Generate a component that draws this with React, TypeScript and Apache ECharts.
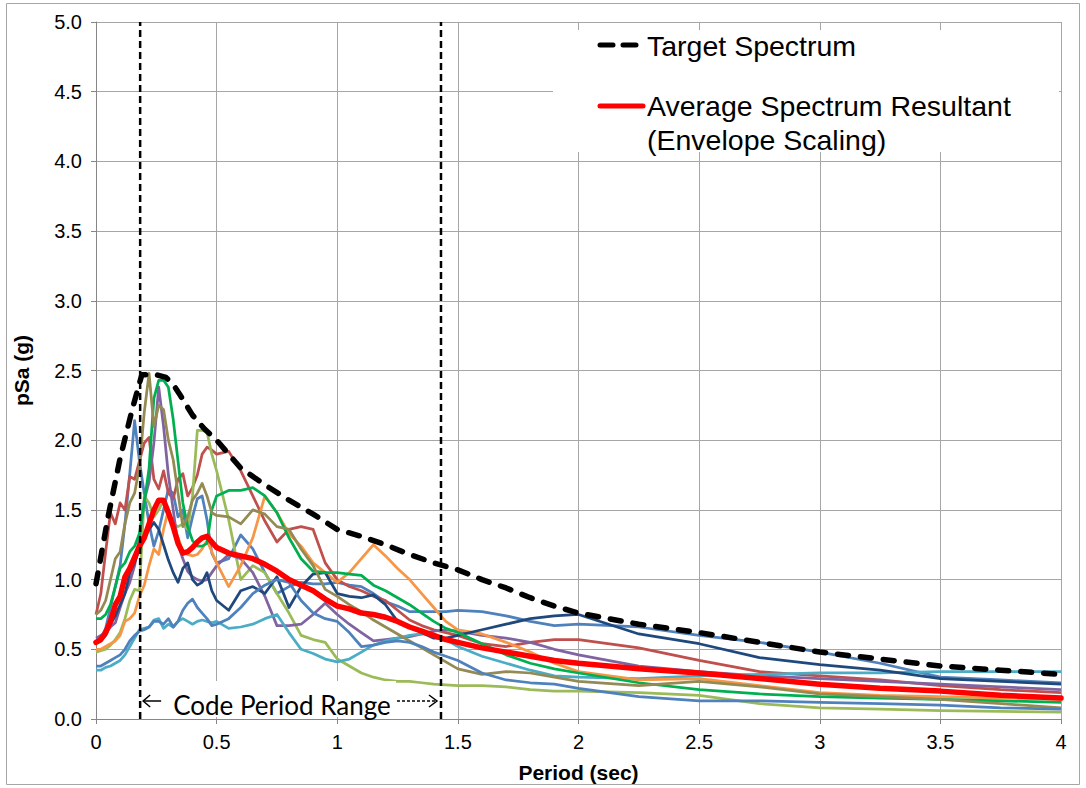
import React, { useEffect, useRef } from "react";
import * as echarts from "echarts";

// Periods (sec) shared by the record spectra and the average
const periods = [
  0, 0.02, 0.04, 0.06, 0.08, 0.1, 0.12, 0.14, 0.16, 0.18,
  0.2, 0.22, 0.24, 0.26, 0.28, 0.3, 0.32, 0.34, 0.36, 0.38,
  0.4, 0.42, 0.44, 0.46, 0.48, 0.5,
  0.55, 0.6, 0.65, 0.7, 0.75, 0.8, 0.85, 0.9, 0.95, 1.0,
  1.05, 1.1, 1.15, 1.2, 1.25, 1.3, 1.35, 1.4, 1.45, 1.5,
  1.6, 1.7, 1.8, 1.9, 2.0,
  2.25, 2.5, 2.75, 3.0, 3.25, 3.5, 3.75, 4.0,
];

const averageSa = [
  0.55, 0.57, 0.62, 0.7, 0.82, 0.88, 1.02, 1.08, 1.16, 1.24,
  1.3, 1.4, 1.5, 1.57, 1.57, 1.48, 1.38, 1.26, 1.19, 1.2,
  1.23, 1.27, 1.3, 1.31, 1.27, 1.23,
  1.19, 1.17, 1.15, 1.11, 1.06, 1.0, 0.96, 0.92, 0.86, 0.81,
  0.79, 0.76, 0.75, 0.73, 0.7, 0.66, 0.63, 0.6, 0.57, 0.55,
  0.51, 0.48, 0.45, 0.42, 0.4,
  0.36, 0.33, 0.29, 0.25, 0.22, 0.2, 0.17, 0.15,
];

const navySa = [
  0.55, 0.56, 0.6, 0.68, 0.74, 0.82, 0.9, 1.05, 1.12, 1.22,
  1.3, 1.36, 1.41, 1.36, 1.25, 1.14, 1.05, 0.98, 1.08, 1.12,
  1.0, 0.96, 0.98, 1.05, 0.92, 0.85,
  0.78, 0.92, 0.95, 0.9, 1.02, 0.8, 0.95, 1.04, 1.05, 0.9,
  0.88, 0.87, 0.89, 0.82, 0.7, 0.66, 0.62, 0.58, 0.58, 0.6,
  0.64, 0.68, 0.72, 0.74, 0.75,
  0.61, 0.54, 0.44, 0.39, 0.35, 0.29, 0.27, 0.25,
];

const redSa = [
  0.75, 0.9, 1.2, 1.48, 1.4, 1.55, 1.5, 1.74, 1.72, 1.85,
  1.98, 2.02, 1.72, 1.65, 1.78, 1.62, 1.58, 1.72, 1.76, 1.6,
  1.66, 1.75, 1.9, 1.95, 1.93, 1.9,
  1.92, 1.78, 1.6, 1.42, 1.27, 1.36, 1.38, 1.36, 1.12, 1.0,
  0.95, 0.92, 0.88, 0.85, 0.78, 0.71, 0.67, 0.64, 0.62, 0.6,
  0.54, 0.52, 0.55, 0.57, 0.57,
  0.51, 0.42, 0.34, 0.31, 0.28, 0.24, 0.21, 0.19,
];

const lightGreenSa = [
  0.48, 0.49, 0.5, 0.53, 0.57, 0.62, 0.72, 0.85, 0.93, 0.92,
  1.6, 1.55, 1.45, 1.5, 1.57, 1.45, 1.4, 1.38, 1.4, 1.36,
  1.6, 2.07, 2.07, 2.06, 1.9, 1.78,
  1.43, 1.0, 1.1, 1.05, 0.9, 0.76, 0.6, 0.57, 0.55, 0.43,
  0.38, 0.33, 0.3, 0.28, 0.27, 0.27, 0.26, 0.25, 0.245, 0.24,
  0.24, 0.23, 0.21, 0.2, 0.2,
  0.19, 0.17, 0.11, 0.08, 0.07, 0.06, 0.055, 0.05,
];

const oliveSa = [
  0.75, 0.78, 0.85, 1.0, 1.15, 1.2, 1.4, 1.55, 1.62, 1.81,
  2.2, 2.48, 2.1, 2.25, 2.22, 2.0, 1.86, 1.62, 1.38, 1.45,
  1.57, 1.62, 1.69, 1.6, 1.48, 1.46,
  1.45, 1.4, 1.5, 1.47, 1.38, 1.36, 1.22, 1.1, 0.93, 0.88,
  0.82, 0.77, 0.71, 0.66, 0.61, 0.56, 0.51, 0.46, 0.41, 0.36,
  0.32, 0.34, 0.33, 0.3, 0.27,
  0.24, 0.27, 0.23, 0.18, 0.16, 0.14, 0.11, 0.08,
];

const greenSa = [
  0.72, 0.72, 0.75, 0.82, 0.95, 1.08, 1.12, 1.2, 1.24, 1.33,
  1.55, 1.8, 2.3, 2.43, 2.43, 2.38, 2.15, 1.85, 1.55, 1.38,
  1.28, 1.24, 1.24, 1.26, 1.5, 1.6,
  1.64, 1.64, 1.66, 1.6, 1.48, 1.3, 1.15, 1.06, 1.05, 1.05,
  1.04, 1.03, 0.96, 0.92, 0.87, 0.82, 0.76, 0.7, 0.65, 0.62,
  0.54, 0.46, 0.4, 0.36, 0.33,
  0.26, 0.21, 0.18, 0.16, 0.15, 0.14, 0.13, 0.12,
];

const orangeSa = [
  0.5, 0.5, 0.52, 0.54, 0.56, 0.6, 0.7, 0.72, 0.76, 0.88,
  0.96, 1.1, 1.22, 1.18, 1.36, 1.5, 1.4, 1.3, 1.2, 1.18,
  1.17, 1.18, 1.22, 1.28, 1.2, 1.12,
  0.95, 1.1, 1.3, 1.6, 1.48, 1.33, 1.24, 1.12, 1.05, 0.98,
  1.05, 1.15, 1.25, 1.17, 1.08, 1.0, 0.9, 0.8, 0.7, 0.64,
  0.61, 0.55, 0.48, 0.4, 0.34,
  0.28, 0.29, 0.24, 0.19, 0.17, 0.16, 0.15, 0.14,
];

const purpleSa = [
  0.58, 0.6, 0.62, 0.66, 0.69, 0.8, 0.9, 0.98, 1.1, 1.3,
  1.57, 1.7, 1.98, 2.38, 2.1, 1.75, 1.5, 1.25, 1.15, 1.06,
  1.02, 1.0, 0.99, 1.0, 1.05, 1.1,
  1.18, 1.15, 1.05, 0.88, 0.67, 0.67, 0.68, 0.75, 0.83, 0.75,
  0.68, 0.62, 0.56, 0.57, 0.58, 0.59, 0.61, 0.63, 0.64, 0.63,
  0.6, 0.58, 0.55, 0.5, 0.46,
  0.38, 0.34, 0.31, 0.29, 0.27, 0.25, 0.23, 0.21,
];

const blueSa = [
  0.55, 0.58, 0.65, 0.8, 0.95, 1.1, 1.4, 1.76, 2.14, 1.85,
  1.62, 1.4, 1.24, 1.35, 1.5, 1.65, 1.62, 1.45, 1.5, 1.3,
  1.45, 1.58, 1.6, 1.43, 1.19, 1.12,
  1.15, 1.32, 1.22, 1.05, 0.9, 0.95, 0.98, 0.97, 0.97, 0.98,
  0.96, 0.95, 0.9, 0.84, 0.81, 0.77, 0.77, 0.77, 0.77, 0.78,
  0.77, 0.74, 0.7, 0.67, 0.68,
  0.66, 0.6, 0.55, 0.48, 0.4, 0.3, 0.28, 0.26,
];

const lowBlueSa = [
  0.38, 0.38, 0.4, 0.42, 0.44, 0.46, 0.5, 0.56, 0.6, 0.63,
  0.64, 0.66, 0.7, 0.7, 0.68, 0.72, 0.66, 0.7, 0.78, 0.83,
  0.86, 0.8, 0.76, 0.72, 0.67, 0.68,
  0.72, 0.8, 0.9, 0.96, 1.0, 0.98, 0.85, 0.76, 0.72, 0.7,
  0.62, 0.52, 0.53, 0.55, 0.56, 0.55, 0.52, 0.48, 0.45, 0.42,
  0.33, 0.28, 0.26, 0.25, 0.22,
  0.16, 0.13, 0.13, 0.12, 0.11, 0.1, 0.08, 0.07,
];

const aquaSa = [
  0.35, 0.35, 0.37, 0.38, 0.4, 0.42, 0.46, 0.52, 0.58, 0.64,
  0.65, 0.66, 0.71, 0.72, 0.65, 0.68, 0.66, 0.7, 0.72, 0.7,
  0.68, 0.7, 0.71, 0.7, 0.69, 0.7,
  0.65, 0.66, 0.68, 0.72, 0.75, 0.62, 0.5, 0.47, 0.43, 0.41,
  0.43, 0.48, 0.53, 0.56, 0.58, 0.6, 0.61, 0.6, 0.57, 0.52,
  0.45, 0.4, 0.35, 0.31, 0.3,
  0.29, 0.31, 0.32, 0.33, 0.33, 0.34, 0.34, 0.34,
];

// Target spectrum
const targetPeriods = [
  0, 0.05, 0.1, 0.15, 0.19, 0.25, 0.29, 0.32, 0.35, 0.4, 0.45, 0.5,
  0.6, 0.7, 0.8, 0.9, 1.0, 1.1, 1.2, 1.3, 1.4, 1.5, 1.6, 1.7, 1.8, 1.9,
  2.0, 2.25, 2.5, 2.75, 3.0, 3.25, 3.5, 3.75, 4.0,
];
const targetSa = [
  0.97, 1.45, 1.87, 2.22, 2.47, 2.47, 2.45, 2.4, 2.32, 2.18, 2.08, 2.0,
  1.8, 1.68, 1.57, 1.47, 1.36, 1.31, 1.25, 1.18, 1.12, 1.07, 1.0, 0.94, 0.87, 0.81,
  0.76, 0.68, 0.62, 0.55, 0.48, 0.43, 0.38, 0.35, 0.32,
];

// Code period range bounds (sec)
const codeRange = [0.183, 1.43];

const yTicks = [0, 0.5, 1, 1.5, 2, 2.5, 3, 3.5, 4, 4.5, 5];

const records = [
  { name: "Record 1", color: "#4F81BD", values: blueSa },
  { name: "Record 2", color: "#C0504D", values: redSa },
  { name: "Record 3", color: "#9BBB59", values: lightGreenSa },
  { name: "Record 4", color: "#8064A2", values: purpleSa },
  { name: "Record 5", color: "#4BACC6", values: aquaSa },
  { name: "Record 6", color: "#F79646", values: orangeSa },
  { name: "Record 7", color: "#1F497D", values: navySa },
  { name: "Record 8", color: "#00B050", values: greenSa },
  { name: "Record 9", color: "#948A54", values: oliveSa },
  { name: "Record 10", color: "#4F81BD", values: lowBlueSa },
];

const FONT = "'Liberation Sans', Arial, sans-serif";

export default function App() {
  const ref = useRef<HTMLDivElement>(null);

  useEffect(() => {
    document.body.style.margin = "0";
    const chart = echarts.init(ref.current as HTMLDivElement, null, { renderer: "svg" });

    const series: any[] = records.map((r) => ({
      type: "line",
      name: r.name,
      data: periods.map((p, i) => [p, r.values[i]]),
      symbol: "none",
      showSymbol: false,
      silent: true,
      z: 2,
      lineStyle: { color: r.color, width: 2.75, join: "round" },
      itemStyle: { color: r.color },
    }));

    series.push({
      type: "line",
      name: "Average Spectrum Resultant (Envelope Scaling)",
      data: periods.map((p, i) => [p, averageSa[i]]),
      symbol: "none",
      silent: true,
      z: 3,
      lineStyle: { color: "#FF0000", width: 5.5, join: "round", cap: "round" },
      itemStyle: { color: "#FF0000" },
    });

    series.push({
      type: "line",
      name: "Target Spectrum",
      data: targetPeriods.map((p, i) => [p, targetSa[i]]),
      symbol: "none",
      silent: true,
      z: 4,
      lineStyle: { color: "#000000", width: 5.5, type: [11, 12], cap: "round", join: "round" },
      itemStyle: { color: "#000000" },
    });

    codeRange.forEach((t, k) => {
      series.push({
        type: "line",
        name: k === 0 ? "Code Range Start" : "Code Range End",
        data: [
          [t, 0],
          [t, 5],
        ],
        symbol: "none",
        silent: true,
        z: 5,
        lineStyle: { color: "#000000", width: 2.5, type: [7, 4] },
        itemStyle: { color: "#000000" },
      });
    });

    chart.setOption({
      animation: false,
      backgroundColor: "#FFFFFF",
      grid: { left: 96, right: 25, top: 22, bottom: 69, containLabel: false },
      xAxis: {
        type: "value",
        min: 0,
        max: 4,
        interval: 0.5,
        name: "Period (sec)",
        nameLocation: "middle",
        nameGap: 43,
        nameTextStyle: { fontFamily: FONT, fontSize: 21, fontWeight: "bold", color: "#000" },
        axisLine: { show: true, onZero: false, lineStyle: { color: "#868686", width: 1 } },
        axisTick: { show: true, length: 5, lineStyle: { color: "#868686" } },
        axisLabel: {
          margin: 13,
          fontFamily: FONT,
          fontSize: 20,
          color: "#000",
          formatter: (v: number) => String(v),
        },
        splitLine: { show: true, lineStyle: { color: "#A6A6A6", width: 1 } },
      },
      yAxis: {
        type: "value",
        min: yTicks[0],
        max: yTicks[yTicks.length - 1],
        interval: 0.5,
        name: "pSa (g)",
        nameLocation: "middle",
        nameGap: 64,
        nameRotate: 90,
        nameTextStyle: { fontFamily: FONT, fontSize: 21, fontWeight: "bold", color: "#000" },
        axisLine: { show: true, lineStyle: { color: "#868686", width: 1 } },
        axisTick: { show: true, length: 5, lineStyle: { color: "#868686" } },
        axisLabel: {
          margin: 14,
          fontFamily: FONT,
          fontSize: 20,
          color: "#000",
          formatter: (v: number) => v.toFixed(1),
        },
        splitLine: { show: true, lineStyle: { color: "#A6A6A6", width: 1 } },
      },
      series,
    });

    const px = (x: number, y: number) => chart.convertToPixel({ gridIndex: 0 }, [x, y]) as number[];
    const [xL, yBase] = px(codeRange[0], 0);
    const [xR] = px(codeRange[1], 0);
    const arrowY = yBase - 18;

    chart.setOption({
      graphic: [
        {
          type: "rect",
          silent: true,
          z: 0,
          shape: { x: 6.5, y: 3.5, width: 1073, height: 781 },
          style: { fill: "none", stroke: "#A6A6A6", lineWidth: 1 },
        },
        // legend box
        {
          type: "rect",
          silent: true,
          z: 100,
          shape: { x: 553, y: 30, width: 506, height: 122 },
          style: { fill: "#FFFFFF", stroke: "none" },
        },
        {
          type: "line",
          silent: true,
          z: 101,
          shape: { x1: 600, y1: 45, x2: 643, y2: 45 },
          style: { stroke: "#000000", lineWidth: 5, lineDash: [13, 10], lineCap: "round" },
        },
        {
          type: "text",
          silent: true,
          z: 101,
          x: 647,
          y: 46,
          style: {
            text: "Target Spectrum",
            font: `28.5px ${FONT}`,
            fill: "#000",
            verticalAlign: "middle",
            align: "left",
          },
        },
        {
          type: "line",
          silent: true,
          z: 101,
          shape: { x1: 600, y1: 106, x2: 643, y2: 106 },
          style: { stroke: "#FF0000", lineWidth: 5, lineCap: "round" },
        },
        {
          type: "text",
          silent: true,
          z: 101,
          x: 647,
          y: 106,
          style: {
            text: "Average Spectrum Resultant",
            font: `28.5px ${FONT}`,
            fill: "#000",
            verticalAlign: "middle",
            align: "left",
          },
        },
        {
          type: "text",
          silent: true,
          z: 101,
          x: 647,
          y: 140,
          style: {
            text: "(Envelope Scaling)",
            font: `28.5px ${FONT}`,
            fill: "#000",
            verticalAlign: "middle",
            align: "left",
          },
        },
        // code period range annotation
        {
          type: "rect",
          silent: true,
          z: 100,
          shape: { x: xL + 20, y: yBase - 38, width: xR - xL - 65, height: 36 },
          style: { fill: "#FFFFFF", stroke: "none" },
        },
        {
          type: "text",
          silent: true,
          z: 101,
          x: xL + 33,
          y: arrowY + 4,
          style: {
            text: "Code Period Range",
            font: `26px Lato, 'Open Sans', sans-serif`,
            fill: "#000",
            verticalAlign: "middle",
            align: "left",
          },
        },
        {
          type: "line",
          silent: true,
          z: 101,
          shape: { x1: xL + 3, y1: arrowY, x2: xL + 21, y2: arrowY },
          style: { stroke: "#000", lineWidth: 1.5 },
        },
        {
          type: "polyline",
          silent: true,
          z: 101,
          shape: { points: [[xL + 10, arrowY - 6], [xL + 3, arrowY], [xL + 10, arrowY + 6]] },
          style: { stroke: "#000", lineWidth: 1.5, fill: "none" },
        },
        {
          type: "line",
          silent: true,
          z: 101,
          shape: { x1: xR - 44, y1: arrowY, x2: xR - 5, y2: arrowY },
          style: { stroke: "#000", lineWidth: 1.5, lineDash: [3, 2] },
        },
        {
          type: "polyline",
          silent: true,
          z: 101,
          shape: { points: [[xR - 12, arrowY - 6], [xR - 4, arrowY], [xR - 12, arrowY + 6]] },
          style: { stroke: "#000", lineWidth: 1.5, fill: "none" },
        },
      ],
    });

    return () => chart.dispose();
  }, []);

  return <div ref={ref} style={{ width: 1086, height: 788 }} />;
}
